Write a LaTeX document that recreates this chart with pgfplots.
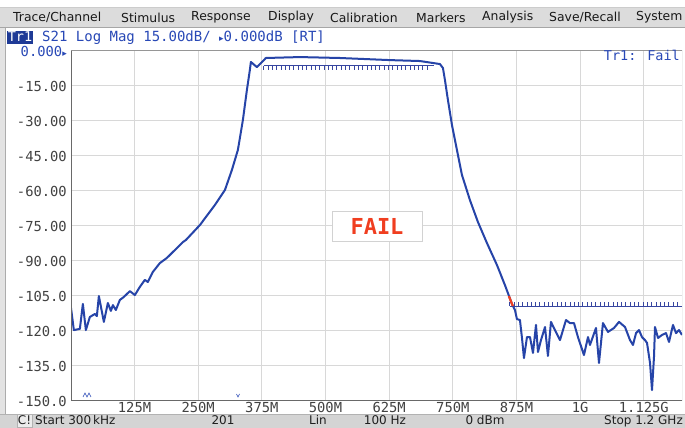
\documentclass[border=0pt]{standalone}
\usepackage{pgfplots}
\pgfplotsset{compat=1.18}
\usepackage{pgfplotstable}
\usepackage{fontspec}
\setmainfont{DejaVu Sans}
\newfontfamily\mono{DejaVu Sans Mono}
\newfontfamily\dvs{DejaVu Sans}
\usetikzlibrary{decorations.pathreplacing,decorations.shapes}

\definecolor{trc}{RGB}{38,68,168}
\definecolor{hdr}{RGB}{40,72,182}
\definecolor{trbox}{RGB}{30,58,150}
\definecolor{failred}{RGB}{240,62,32}
\definecolor{gridc}{RGB}{216,216,216}
\definecolor{frameL}{RGB}{105,105,105}
\definecolor{frameT}{RGB}{150,150,150}
\definecolor{lbl}{RGB}{65,65,65}
\definecolor{menubg}{RGB}{220,220,220}
\definecolor{statbg}{RGB}{212,212,212}
\definecolor{limc}{RGB}{55,70,160}

\pgfplotstableread{
f db
0.3 -110.1
5.9 -119.6
17.7 -119.1
23.6 -108.4
29.5 -119.6
37.3 -114.0
47.1 -112.7
51.1 -113.6
55.0 -105.0
64.8 -116.1
72.7 -108.0
78.6 -111.4
82.5 -108.9
88.4 -111.0
96.2 -106.7
104.1 -105.4
115.9 -102.9
125.7 -104.6
135.5 -101.1
145.3 -98.1
151.2 -99.0
161.0 -94.7
174.8 -90.9
188.5 -88.7
204.3 -85.3
220.0 -81.9
225.9 -81.0
253.4 -74.6
282.8 -66.0
302.5 -59.6
316.2 -51.0
328.0 -42.4
337.8 -29.6
345.7 -16.7
351.5 -8.1
353.5 -4.7
365.3 -6.9
383.0 -3.0
449.8 -2.6
528.3 -3.0
626.5 -3.9
685.4 -4.3
724.7 -5.6
730.6 -7.3
734.5 -12.4
740.4 -21.0
748.3 -31.7
758.1 -42.4
767.9 -53.1
783.6 -63.9
799.3 -73.3
817.0 -82.3
836.6 -91.7
852.3 -100.3
866.1 -108.4
872.0 -111.0
875.9 -114.9
881.8 -115.3
885.8 -123.0
889.7 -131.6
895.6 -122.6
901.5 -122.6
907.4 -129.4
913.3 -117.4
917.2 -129.0
923.1 -123.9
931.0 -118.3
936.8 -130.7
942.7 -116.1
950.6 -119.6
960.4 -123.9
972.2 -115.3
980.0 -116.6
987.9 -116.6
995.7 -122.6
1007.5 -130.3
1015.4 -122.6
1019.3 -126.0
1031.1 -118.7
1037.0 -133.7
1044.8 -116.6
1054.7 -120.4
1066.5 -118.7
1076.3 -116.1
1088.1 -118.3
1097.9 -123.9
1103.8 -126.0
1109.7 -120.9
1115.6 -119.6
1121.4 -122.6
1127.3 -123.9
1131.3 -125.1
1137.2 -133.7
1141.1 -145.3
1145.0 -131.1
1147.0 -118.3
1152.9 -123.0
1160.7 -121.7
1168.6 -120.9
1174.5 -124.7
1182.3 -117.4
1188.2 -120.9
1194.1 -119.6
1200.0 -121.7
}\trace

\begin{document}
\begin{tikzpicture}
\useasboundingbox (0pt,0pt) rectangle (685pt,428pt);
\fill[white] (0pt,0pt) rectangle (685pt,428pt);

\begin{axis}[
  at={(71pt,27pt)}, anchor=south west,
  width=611pt, height=350pt, scale only axis,
  xmin=0.3, xmax=1200, ymin=-150, ymax=0,
  xtick={125,250,375,500,625,750,875,1000,1125},
  xticklabels={125M,250M,375M,500M,625M,750M,875M,1G,1.125G},
  ytick={-150,-135,-120,-105,-90,-75,-60,-45,-30,-15,0},
  yticklabels={-150.0,-135.0,-120.0,-105.0,-90.00,-75.00,-60.00,-45.00,-30.00,-15.00,{\textcolor{hdr}{0.000{\dvs\small ▸}}}},
  grid=major,
  major grid style={draw=gridc, line width=1pt},
  major tick length=0pt,
  axis line style={draw=none},
  ticklabel style={font=\mono\fontsize{13.8}{14}\selectfont, text=lbl, inner sep=0pt},
  yticklabel style={xshift=-4pt},
  xticklabel style={yshift=-1.5pt},
  clip=true,
]
\addplot[limc, line width=1pt,
  postaction={decorate, decoration={border, segment length=4.3pt, amplitude=3.8pt, angle=-90}}]
  coordinates {(379,-6.4) (713,-6.4)};
\addplot[limc, line width=1pt,
  postaction={decorate, decoration={border, segment length=4.3pt, amplitude=3.8pt, angle=90}}]
  coordinates {(862,-109.3) (1200,-109.3)};
\addplot[trc, line width=2pt, line join=round] table[x=f, y=db] {\trace};
\addplot[failred, line width=2.2pt] coordinates {(860,-105) (866.1,-108.4) (868,-109.3)};
\draw[frameT, line width=1pt] (rel axis cs:0,1) -- (rel axis cs:1,1) -- (rel axis cs:1,0);
\draw[frameL, line width=1.2pt] (rel axis cs:0,1) -- (rel axis cs:0,0) -- (rel axis cs:1,0);
\end{axis}

\begin{scope}[x=1pt, y=1pt]
% left strip
\fill[gray!22] (0,0) rectangle (5,400);
\draw[gray!65, line width=0.8pt] (5.5,0) -- (5.5,400);
% menu bar
\fill[menubg] (0,400) rectangle (685,421);
\draw[gray!70, line width=1pt] (0,400) -- (685,400);
\draw[gray!40, line width=0.5pt] (0,421) -- (685,421);
\begin{scope}[every node/.style={anchor=west, inner sep=0pt, text=black!90, font=\fontsize{12.4}{13}\selectfont}]
\node at (13,410.5) {Trace/Channel};
\node at (121,410.5) {Stimulus};
\node at (191,410.5) {Response};
\node at (268,410.5) {Display};
\node at (330,410.5) {Calibration};
\node at (416,410.5) {Markers};
\node at (482,410.5) {Analysis};
\node at (549,410.5) {Save/Recall};
\node at (636,410.5) {System};
\end{scope}
% header
\fill[trbox] (7,384) rectangle (33,397);
\node[anchor=base, inner sep=0pt, text=white, font=\mono\fontsize{13.5}{14}\selectfont] at (20,386) {Tr1};
\node[anchor=base west, inner sep=0pt, text=hdr, font=\mono\fontsize{14}{14}\selectfont] at (42,386) {S21 Log Mag 15.00dB/ {\dvs\small ▸}0.000dB [RT]};
\node[anchor=base east, inner sep=0pt, text=hdr, font=\mono\fontsize{13.5}{14}\selectfont] at (680,367) {Tr1: Fail};
% FAIL box
\draw[gray!35, fill=white, line width=0.8pt] (332,187) rectangle (422,217);
\node[text=failred, inner sep=0pt, font=\mono\bfseries\fontsize{22}{22}\selectfont] at (377,202) {FAIL};
% small markers
\draw[hdr, line width=0.6pt] (83,31) -- (85,35) -- (87,31) -- (89,35) -- (91,31);
\draw[hdr, line width=0.6pt] (236.5,34) -- (238,31) -- (239.5,34);
% status bar
\fill[statbg] (0,0) rectangle (685,14);
\draw[gray!60, line width=0.8pt] (0,14) -- (685,14);
\draw[gray!60, fill=gray!15, line width=0.8pt] (17,0.5) rectangle (32,13.5);
\begin{scope}[every node/.style={inner sep=0pt, text=black!88, font=\fontsize{12}{13}\selectfont}]
\node[anchor=base] at (24.5,3) {C!};
\node[anchor=base west] at (35,3) {Start 300\,kHz};
\node[anchor=base] at (223,3) {201};
\node[anchor=base] at (318,3) {Lin};
\node[anchor=base] at (385,3) {100 Hz};
\node[anchor=base] at (485,3) {0 dBm};
\node[anchor=base east] at (683,3) {Stop 1.2 GHz};
\end{scope}
\end{scope}
\end{tikzpicture}
\end{document}
